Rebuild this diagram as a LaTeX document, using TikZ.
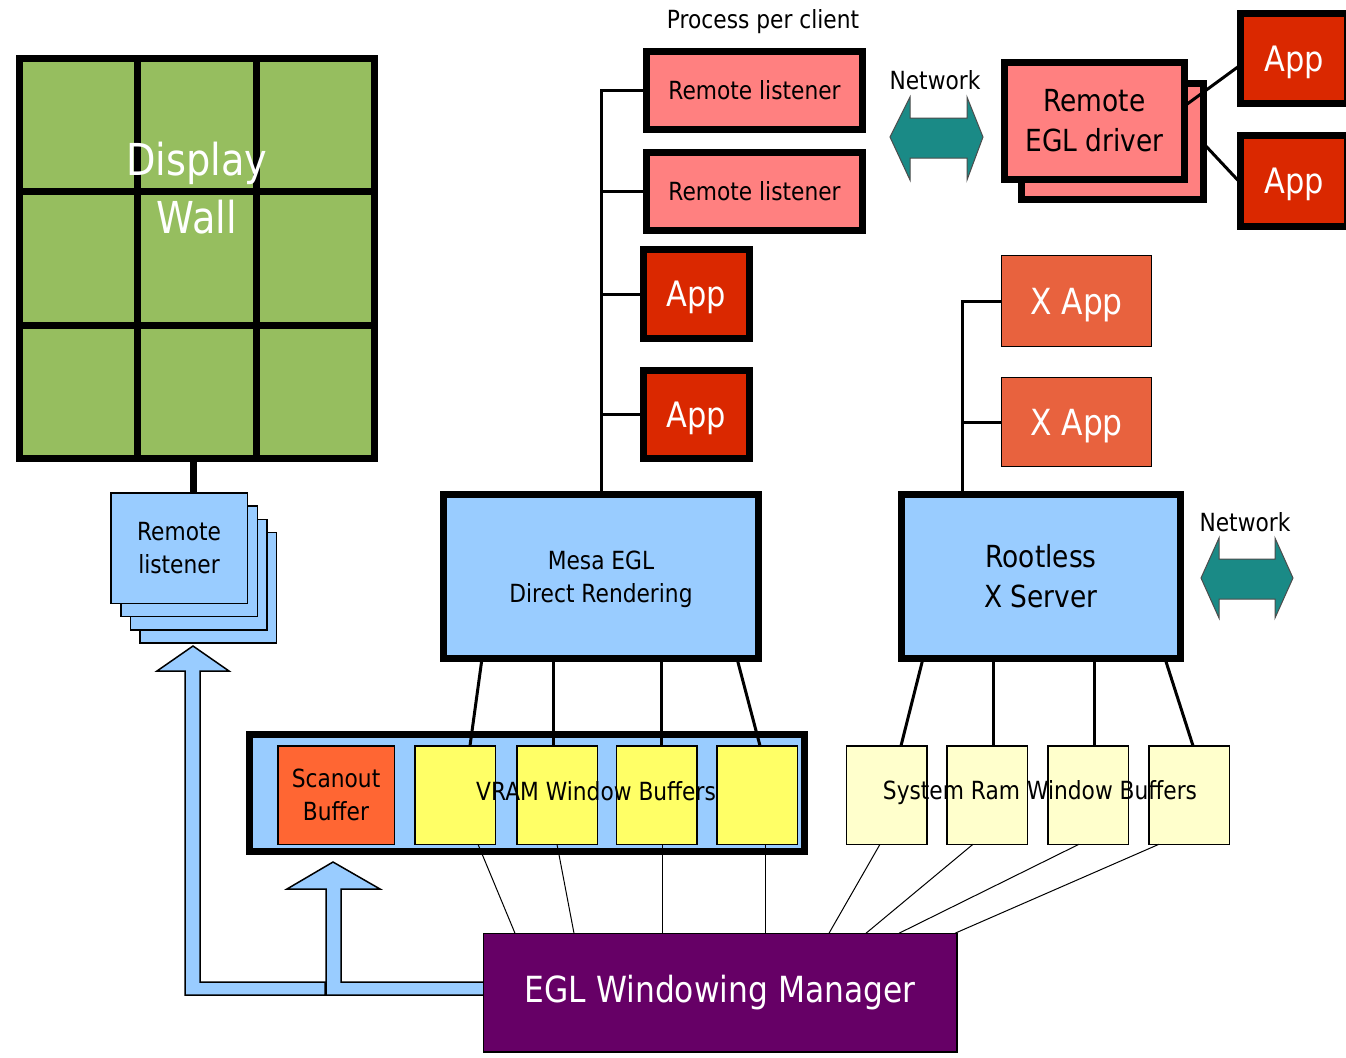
\documentclass[tikz,border=0pt]{standalone}
\usepackage{fontspec}
\setmainfont{DejaVu Sans}[FakeStretch=0.87]
\usetikzlibrary{calc}
\definecolor{wallgreen}{RGB}{150,190,95}
\definecolor{pinkc}{RGB}{255,128,128}
\definecolor{appred}{RGB}{218,40,0}
\definecolor{xappc}{RGB}{232,98,62}
\definecolor{lblue}{RGB}{153,204,255}
\definecolor{tealc}{RGB}{26,138,134}
\definecolor{scanorange}{RGB}{255,102,51}
\definecolor{ybuf}{RGB}{255,255,102}
\definecolor{pbuf}{RGB}{255,255,204}
\definecolor{mgrpurple}{RGB}{102,0,102}
\newcommand\fsmall{\fontsize{12.5pt}{16.5pt}\selectfont}
\newcommand\fmed{\fontsize{15.2pt}{20pt}\selectfont}
\newcommand\fapp{\fontsize{17.5pt}{21pt}\selectfont}
\newcommand\fxapp{\fontsize{18pt}{21pt}\selectfont}
\newcommand\fwall{\fontsize{22pt}{29pt}\selectfont}
\newcommand\fmgr{\fontsize{18pt}{22pt}\selectfont}
\tikzset{
  thickbox/.style={draw, line width=3.5pt, inner sep=0pt, outer sep=0pt},
  thinbox/.style={draw, line width=0.75pt, inner sep=0pt, outer sep=0pt},
  appbox/.style={thickbox, fill=appred, text=white, font=\fapp, text depth=0pt},
  xappbox/.style={thinbox, fill=xappc, text=white, font=\fxapp, text depth=0pt, minimum width=75pt},
  bus/.style={line width=1.5pt},
  thinline/.style={line width=0.5pt},
  bluearrow/.style={fill=lblue, draw=black, line width=0.75pt, line join=miter},
  netarrow/.style={fill=tealc, draw=black!70, line width=0.5pt},
  lbl/.style={font=\fsmall, inner sep=0pt}
}
\begin{document}
\begin{tikzpicture}[x=0.5pt, y=-0.5pt]
\useasboundingbox (0,0) rectangle (1346,1057);
\fill[white] (0,0) rectangle (1346,1057);

% ---------- Display wall ----------
\node[thickbox, fill=wallgreen, minimum width=177.5pt, minimum height=200pt] (wall) at (197,258.5) {};
\draw[line width=3.5pt] ($(wall.north west)!1/3!(wall.north east)$) -- ($(wall.south west)!1/3!(wall.south east)$);
\draw[line width=3.5pt] ($(wall.north west)!2/3!(wall.north east)$) -- ($(wall.south west)!2/3!(wall.south east)$);
\draw[line width=3.5pt] ($(wall.north west)!1/3!(wall.south west)$) -- ($(wall.north east)!1/3!(wall.south east)$);
\draw[line width=3.5pt] ($(wall.north west)!2/3!(wall.south west)$) -- ($(wall.north east)!2/3!(wall.south east)$);
\node[text=white, font=\fwall, align=center, inner sep=0pt] (walllbl) at (197,188) {Display\\Wall};

% ---------- Left remote listener stack ----------
\node[thinbox, fill=lblue, minimum width=68.25pt, minimum height=55.25pt] (ls3) at (208,587.5) {};
\node[thinbox, fill=lblue, minimum width=68.25pt, minimum height=55.25pt] (ls2) at (198.5,574.5) {};
\node[thinbox, fill=lblue, minimum width=68.25pt, minimum height=55.25pt] (ls1) at (189,561) {};
\node[thinbox, fill=lblue, minimum width=68.25pt, minimum height=55.25pt, font=\fsmall, align=center] (ls) at (179,548) {Remote\\listener};
\coordinate (wl) at (193,0);
\draw[line width=3.5pt] (wall.south -| wl) -- (ls.north -| wl);

% ---------- Blue arrows ----------
\draw[bluearrow] (325,995) -- (185,995) -- (185,671) -- (157,671) -- (193,646) -- (229,671) -- (200,671) -- (200,982) -- (325,982) -- cycle;
\draw[bluearrow] (484,995) -- (326,995) -- (326,889) -- (287,889) -- (333,862) -- (380,889) -- (341,889) -- (341,982) -- (484,982) -- cycle;

% ---------- Process per client column ----------
\node[lbl] (ppc) at (763,22) {Process per client};
\node[thickbox, fill=pinkc, minimum width=108pt, minimum height=39pt, font=\fsmall] (rl1) at (754.5,90.5) {Remote listener};
\node[thickbox, fill=pinkc, minimum width=108pt, minimum height=39pt, font=\fsmall] (rl2) at (754.5,191.5) {Remote listener};
\node[appbox, minimum width=53pt, minimum height=44.5pt] (app1) at (696.5,294) {App};
\node[appbox, minimum width=53pt, minimum height=44pt] (app2) at (696.5,414.5) {App};

% ---------- Mesa EGL ----------
\node[thickbox, fill=lblue, minimum width=157.5pt, minimum height=82pt, font=\fsmall, align=center, text depth=0pt] (mesa) at (601,576.5) {Mesa EGL\\Direct Rendering};
\draw[bus] (mesa.north) |- (rl1.west);
\draw[bus] (rl2.west) -- (rl2.west -| mesa.north);
\draw[bus] (app1.west) -- (app1.west -| mesa.north);
\draw[bus] (app2.west) -- (app2.west -| mesa.north);

% ---------- Network (top) ----------
\node[lbl] (net1) at (935,80) {Network};
\draw[netarrow] (890,137) -- (910,97) -- (910,118) -- (967,118) -- (967,97) -- (983,137) -- (967,180) -- (967,158) -- (910,158) -- (910,180) -- cycle;

% ---------- Remote EGL driver ----------
\node[thickbox, fill=pinkc, minimum width=91pt, minimum height=58pt] (eglb) at (1112.5,141.5) {};
\node[thickbox, fill=pinkc, minimum width=90pt, minimum height=58.5pt, font=\fmed, align=center] (eglf) at (1094.5,121) {Remote\\EGL driver};
\node[appbox, minimum width=53.5pt, minimum height=45pt] (appR1) at (1294,58.5) {App};
\node[appbox, minimum width=53.5pt, minimum height=45.5pt] (appR2) at (1294,181) {App};
\draw[bus] ($(eglf.east)+(0,-15)$) -- ($(appR1.west)+(0,6.5)$);
\draw[bus] ($(eglb.east)+(0,2)$) -- ($(appR2.west)+(0,2)$);

% ---------- X apps and Rootless X server ----------
\node[xappbox, minimum height=45.5pt] (xa1) at (1076.5,301) {X App};
\node[xappbox, minimum height=44.5pt] (xa2) at (1076.5,422) {X App};
\node[thickbox, fill=lblue, minimum width=139.5pt, minimum height=82pt, font=\fmed, align=center] (rootless) at (1041,576.5) {Rootless\\X Server};
\coordinate (busB) at (962,0);
\draw[bus] (rootless.north -| busB) |- (xa1.west);
\draw[bus] (xa2.west) -- (xa2.west -| busB);

% ---------- Network (right) ----------
\node[lbl] (net2) at (1245,522) {Network};
\draw[netarrow] (1201,578) -- (1219,538) -- (1219,559) -- (1275,559) -- (1275,538) -- (1293,578) -- (1275,618) -- (1275,599) -- (1219,599) -- (1219,618) -- cycle;

% ---------- VRAM buffers ----------
\node[thickbox, fill=lblue, minimum width=277.5pt, minimum height=58.5pt] (vram) at (527,793) {};
\node[thinbox, fill=scanorange, minimum width=58.25pt, minimum height=49.25pt, font=\fsmall, align=center] (scan) at (336,795) {Scanout\\Buffer};
\node[thinbox, fill=ybuf, minimum width=40.25pt, minimum height=49.25pt] (y1) at (455,795) {};
\node[thinbox, fill=ybuf, minimum width=40.25pt, minimum height=49.25pt] (y2) at (557,795) {};
\node[thinbox, fill=ybuf, minimum width=40.25pt, minimum height=49.25pt] (y3) at (656.5,795) {};
\node[thinbox, fill=ybuf, minimum width=40.25pt, minimum height=49.25pt] (y4) at (757,795) {};
\node[lbl] (vramlbl) at (596,791) {VRAM Window Buffers};

% ---------- System RAM buffers ----------
\node[thinbox, fill=pbuf, minimum width=40.25pt, minimum height=49.25pt] (s1) at (886.5,795) {};
\node[thinbox, fill=pbuf, minimum width=40.25pt, minimum height=49.25pt] (s2) at (987,795) {};
\node[thinbox, fill=pbuf, minimum width=40.25pt, minimum height=49.25pt] (s3) at (1088,795) {};
\node[thinbox, fill=pbuf, minimum width=40.25pt, minimum height=49.25pt] (s4) at (1189,795) {};
\node[lbl] (syslbl) at (1040,793) {System Ram Window Buffers};

% ---------- Mesa / Rootless to buffers ----------
\draw[bus] ($(mesa.south)+(-119,0)$) -- ($(y1.north)+(15,0)$);
\draw[bus] ($(mesa.south)+(-48,0)$) -- ($(y2.north)+(-4,0)$);
\draw[bus] ($(mesa.south)+(60,0)$) -- ($(y3.north)+(4.5,0)$);
\draw[bus] ($(mesa.south)+(136,0)$) -- ($(y4.north)+(3,0)$);
\draw[bus] ($(rootless.south)+(-118,0)$) -- ($(s1.north)+(14.5,0)$);
\draw[bus] ($(rootless.south)+(-48,0)$) -- ($(s2.north)+(6,0)$);
\draw[bus] ($(rootless.south)+(53,0)$) -- ($(s3.north)+(6,0)$);
\draw[bus] ($(rootless.south)+(124,0)$) -- ($(s4.north)+(4,0)$);

% ---------- EGL Windowing Manager ----------
\node[thinbox, fill=mgrpurple, text=white, font=\fmgr, minimum width=236.75pt, minimum height=59.25pt] (mgr) at (720,992.5) {EGL Windowing Manager};
\draw[thinline] ($(y1.south)+(23,0)$) -- ($(mgr.north)+(-205,0)$);
\draw[thinline] (y2.south) -- ($(mgr.north)+(-146,0)$);
\draw[thinline] ($(y3.south)+(5.5,0)$) -- ($(mgr.north)+(-58,0)$);
\draw[thinline] ($(y4.south)+(8,0)$) -- ($(mgr.north)+(45,0)$);
\draw[thinline] ($(s1.south)+(-6.5,0)$) -- ($(mgr.north)+(109,0)$);
\draw[thinline] ($(s2.south)+(-14,0)$) -- ($(mgr.north)+(146,0)$);
\draw[thinline] ($(s3.south)+(-9,0)$) -- ($(mgr.north)+(179,0)$);
\draw[thinline] ($(s4.south)+(-30,0)$) -- ($(mgr.north)+(235,0)$);
\end{tikzpicture}
\end{document}
